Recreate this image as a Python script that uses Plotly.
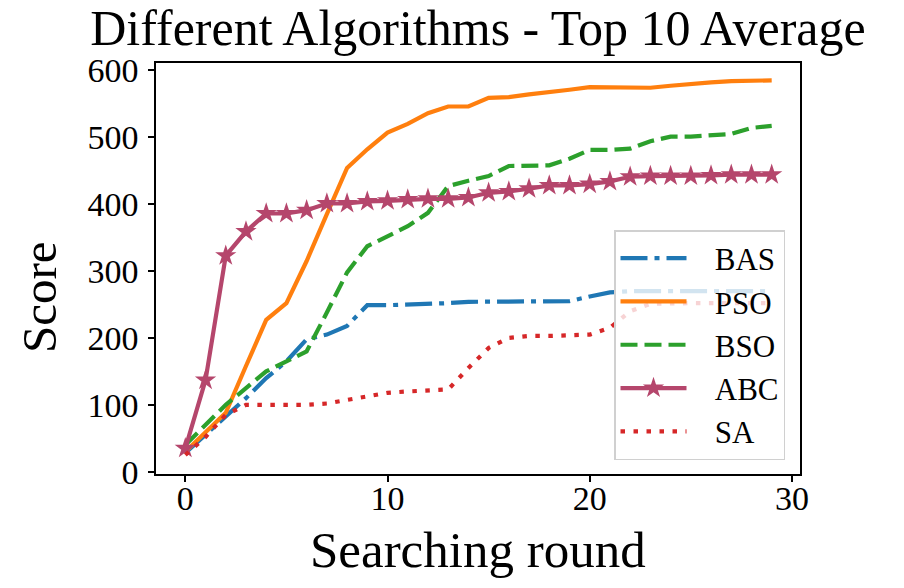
import plotly.graph_objects as go

rounds = list(range(30))

bas = [28, 55, 82, 110, 140, 165, 198, 205, 218, 249, 249, 250, 250, 252, 254,
       254, 254, 254, 254, 255, 262, 268, 270, 270, 270, 270, 270, 270, 270, 270]
pso = [30, 60, 88, 158, 227, 252, 315, 385, 454, 482, 507, 520, 536, 546, 546,
       559, 560, 564, 567, 571, 575, 575, 574, 574, 577, 580, 582, 584, 584, 585]
bso = [40, 70, 100, 125, 150, 165, 180, 238, 298, 337, 352, 367, 387, 427, 435,
       442, 457, 457, 458, 468, 481, 481, 483, 494, 501, 501, 503, 505, 514, 517]
abc = [35, 137, 323, 359, 386, 386, 391, 401, 401, 404, 405, 407, 408, 408, 410,
       417, 419, 423, 428, 428, 430, 434, 441, 442, 442, 442, 443, 444, 444, 444]
sa = [25, 52, 85, 100, 100, 100, 100, 102, 107, 112, 118, 120, 121, 123, 155,
      185, 200, 203, 203, 204, 205, 215, 240, 251, 252, 252, 252, 252, 252, 252]

x_ticks = [0, 10, 20, 30]
y_ticks = [0, 100, 200, 300, 400, 500, 600]

FONT = "Liberation Serif, Times New Roman, serif"
LW = 4.2
PAD = "\u00a0\u00a0\u00a0"

# the page body has an 8px margin; work in screen pixels and offset
OFF = 8
W, H = 904 - OFF, 588 - OFF
L, R, T, B = 156 - OFF, 800 - OFF, 63 - OFF, 474 - OFF


def px_x(X):
    return (X - OFF - L) / (R - L)


def px_y(Y):
    return (B - (Y - OFF)) / (B - T)


fig = go.Figure()
fig.add_trace(go.Scatter(x=rounds, y=bas, name=PAD + "BAS", mode="lines",
                         line=dict(color="#1f77b4", width=LW, dash="27px,7px,5px,7px")))
fig.add_trace(go.Scatter(x=rounds, y=pso, name=PAD + "PSO", mode="lines",
                         line=dict(color="#ff7f0e", width=LW)))
fig.add_trace(go.Scatter(x=rounds, y=bso, name=PAD + "BSO", mode="lines",
                         line=dict(color="#2ca02c", width=LW, dash="17px,7px")))
fig.add_trace(go.Scatter(x=rounds, y=abc, name=PAD + "ABC", mode="lines+markers",
                         line=dict(color="#b5466c", width=LW),
                         marker=dict(symbol="star", size=16, color="#b5466c")))
fig.add_trace(go.Scatter(x=rounds, y=sa, name=PAD + "SA", mode="lines",
                         line=dict(color="#d62728", width=LW, dash="4.5px,8.5px")))

axis_common = dict(
    showline=True, linecolor="black", linewidth=1.5, mirror=True,
    ticks="outside", ticklen=6, tickwidth=1.5, tickcolor="black",
    showgrid=False, zeroline=False, automargin=False,
    tickfont=dict(family=FONT, size=34, color="black"),
)

fig.update_layout(
    width=W, height=H,
    paper_bgcolor="white", plot_bgcolor="white",
    margin=dict(l=L, r=W - R, t=T, b=H - B),
    title=dict(text="Different Algorithms - Top 10 Average",
               font=dict(family=FONT, size=50, color="black"),
               xref="paper", x=0.5, xanchor="center",
               y=1 - 19.5 / H, yanchor="middle", automargin=False),
    xaxis=dict(range=[-1.45, 30.4], tickvals=x_ticks, ticklabelstandoff=-13,
               **axis_common),
    yaxis=dict(range=[-3.4, 611], tickvals=y_ticks, ticklabelstandoff=3,
               **axis_common),
    legend=dict(x=px_x(785), xanchor="right", y=px_y(460), yanchor="bottom",
                bgcolor="rgba(255,255,255,0.8)", bordercolor="#d0d0d0", borderwidth=1.5,
                font=dict(family=FONT, size=31, color="black"),
                itemwidth=66, tracegroupgap=0),
    showlegend=True,
    annotations=[
        dict(text="Searching round", xref="paper", yref="paper",
             x=px_x(478), y=px_y(550), xanchor="center", yanchor="middle",
             showarrow=False, font=dict(family=FONT, size=51, color="black")),
        dict(text="Score", xref="paper", yref="paper", textangle=-90,
             x=px_x(39), y=px_y(297), xanchor="center", yanchor="middle",
             showarrow=False, font=dict(family=FONT, size=49, color="black")),
    ],
)

fig.write_html("out.html")
